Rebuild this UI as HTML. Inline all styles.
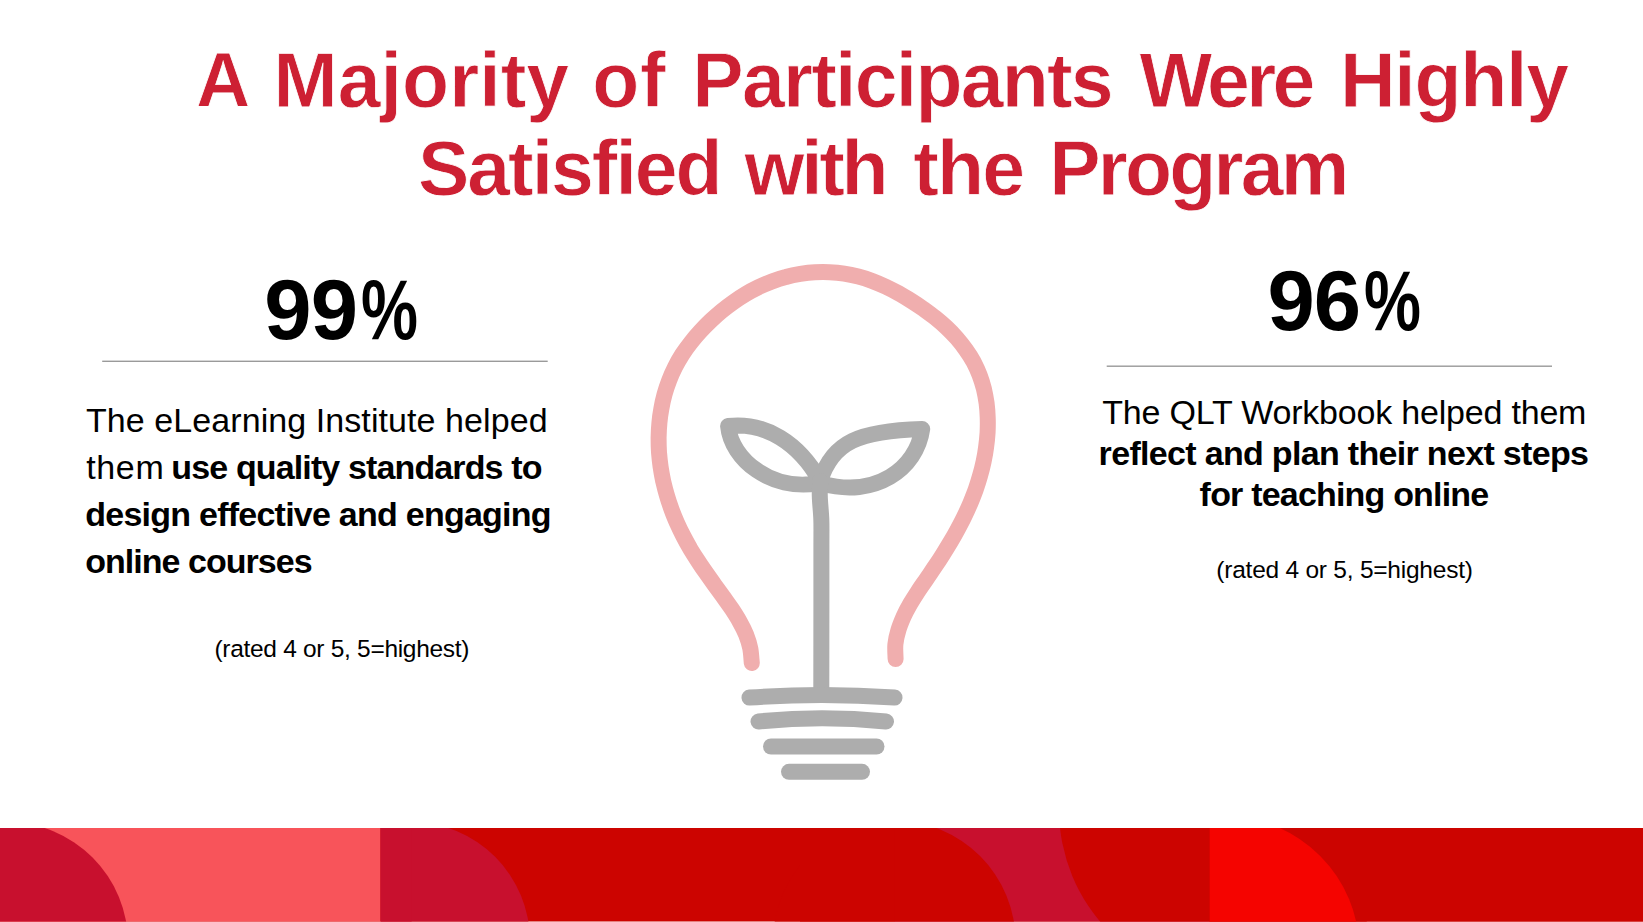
<!DOCTYPE html>
<html lang="en"><head><meta charset="utf-8"><title>A Majority of Participants Were Highly Satisfied with the Program</title>
<style>
html,body{margin:0;padding:0;background:#fff;}
body{width:1643px;height:922px;position:relative;overflow:hidden;font-family:"Liberation Sans",sans-serif;color:#000;}
.t{position:absolute;white-space:nowrap;line-height:1;}
.h{-webkit-text-stroke:0.8px #fff;}
b{font-weight:700;}
h1{margin:0;font-size:77px;}
</style></head><body>
<svg width="1643" height="922" viewBox="0 0 1643 922" style="position:absolute;left:0;top:0"><g fill="none" stroke-linecap="round" stroke-linejoin="round" stroke-width="16"><path stroke="#f0aeae" d="M751.8,663.0C751.5,660.6 751.2,653.1 750.3,648.4C749.3,643.7 747.8,639.1 746.1,634.7C744.3,630.2 742.1,625.9 739.7,621.7C737.4,617.5 734.7,613.3 732.0,609.2C729.3,605.1 726.3,601.1 723.5,597.1C720.6,593.1 717.7,589.1 714.8,585.2C711.9,581.2 709.1,577.2 706.3,573.2C703.5,569.2 700.7,565.2 698.1,561.1C695.4,557.0 692.8,552.9 690.3,548.8C687.9,544.6 685.5,540.3 683.3,536.0C681.0,531.7 678.9,527.3 676.9,522.8C675.0,518.4 673.1,513.9 671.5,509.3C669.8,504.7 668.2,500.1 666.9,495.4C665.5,490.7 664.3,486.0 663.2,481.3C662.2,476.5 661.3,471.7 660.6,466.9C659.9,462.1 659.4,457.2 659.0,452.4C658.7,447.5 658.6,442.6 658.6,437.7C658.7,432.8 658.9,427.9 659.4,423.0C659.8,418.1 660.5,413.3 661.4,408.5C662.2,403.7 663.3,398.9 664.6,394.2C665.9,389.5 667.4,384.9 669.2,380.3C670.9,375.8 672.9,371.4 675.1,367.0C677.3,362.7 679.7,358.5 682.3,354.4C684.9,350.4 687.8,346.4 690.8,342.6C693.8,338.7 697.0,335.0 700.3,331.4C703.6,327.8 707.0,324.3 710.6,320.9C714.2,317.5 717.8,314.2 721.6,311.1C725.4,308.0 729.3,305.0 733.3,302.2C737.3,299.3 741.4,296.6 745.6,294.1C749.7,291.6 754.0,289.3 758.4,287.2C762.8,285.0 767.3,283.1 771.9,281.4C776.5,279.7 781.1,278.2 785.9,277.0C790.6,275.7 795.4,274.7 800.3,273.9C805.1,273.2 810.0,272.6 814.9,272.3C819.8,272.0 824.7,272.0 829.5,272.2C834.4,272.4 839.3,272.8 844.1,273.6C848.9,274.3 853.6,275.3 858.3,276.5C863.0,277.7 867.6,279.2 872.2,280.9C876.7,282.6 881.2,284.5 885.6,286.6C890.0,288.7 894.4,290.9 898.6,293.3C902.9,295.7 907.1,298.3 911.3,300.9C915.4,303.5 919.5,306.2 923.5,309.0C927.5,311.9 931.4,314.7 935.3,317.8C939.1,320.9 942.8,324.0 946.4,327.4C950.0,330.8 953.4,334.3 956.7,338.0C959.9,341.7 963.0,345.6 965.8,349.6C968.6,353.5 971.3,357.7 973.6,361.9C975.8,366.2 977.9,370.6 979.6,375.1C981.3,379.5 982.7,384.2 983.9,388.8C985.0,393.5 985.9,398.3 986.6,403.1C987.2,407.9 987.6,412.8 987.7,417.7C987.9,422.6 987.8,427.5 987.6,432.4C987.3,437.3 986.8,442.2 986.1,447.1C985.5,452.0 984.6,456.9 983.6,461.7C982.6,466.5 981.4,471.2 980.0,475.9C978.7,480.6 977.2,485.2 975.6,489.8C973.9,494.3 972.2,498.8 970.3,503.3C968.4,507.8 966.4,512.2 964.3,516.5C962.2,520.9 959.9,525.2 957.6,529.5C955.3,533.8 952.9,538.0 950.4,542.2C947.9,546.4 945.3,550.6 942.7,554.7C940.1,558.9 937.4,563.0 934.6,567.1C931.9,571.2 929.0,575.2 926.3,579.3C923.5,583.4 920.6,587.4 918.0,591.5C915.3,595.6 912.7,599.7 910.2,603.9C907.8,608.1 905.5,612.3 903.5,616.7C901.6,621.1 899.7,625.5 898.4,630.1C897.0,634.7 895.9,639.3 895.4,644.2C894.9,649.0 895.6,656.6 895.6,659.1"/><g stroke="#adadad"><path d="M820.2,481.1C798.9,443.0 765.4,421.7 728.1,426.0C731.2,459.8 771.5,491.0 817.2,483.4"/><path d="M820.2,481.1C832.4,441.5 859.8,430.9 922.2,429.0C916.8,468.9 875.0,498.6 821.7,483.4"/><path d="M820.2,481.1C820.1,483.6 819.6,490.0 819.8,496.3C819.9,502.6 821.0,511.0 821.3,519.1C821.6,527.2 821.4,531.5 821.4,545.0C821.4,558.5 821.4,576.2 821.4,600.0C821.4,623.8 821.3,673.3 821.3,688.0"/><path d="M749.5,697.6Q822,692.4 894.5,697.6"/><path d="M758.5,721.5Q822,715 886,721.5"/><path d="M771,746.5L876.5,746.5"/><path d="M789,771.8L862,771.8"/></g></g><defs><clipPath id="band"><rect x="0" y="828" width="1643" height="93.5"/></clipPath></defs><g clip-path="url(#band)"><rect x="0" y="828" width="1643" height="94" fill="#cc0400"/><rect x="0" y="828" width="380.6" height="94" fill="#f8545a"/><circle cx="7" cy="943" r="121" fill="#c8102e"/><clipPath id="c2"><rect x="380.6" y="828" width="300" height="94"/></clipPath><circle cx="411" cy="941" r="119" fill="#c8102e" clip-path="url(#c2)"/><rect x="380.6" y="828" width="31" height="94" fill="#c8102e"/><rect x="894" y="828" width="316" height="94" fill="#c8102e"/><circle cx="894.3" cy="941.8" r="121.3" fill="#cc0400"/><rect x="800" y="828" width="94.3" height="94" fill="#cc0400"/><circle cx="1233.4" cy="809.2" r="174.4" fill="#cc0400"/><rect x="1209.7" y="828" width="433.3" height="94" fill="#cc0400"/><clipPath id="c5"><rect x="1209.7" y="828" width="300" height="94"/></clipPath><circle cx="1224.7" cy="950.9" r="134.7" fill="#f50400" clip-path="url(#c5)"/></g><rect x="102.2" y="360.6" width="445.5" height="1.4" fill="#9a9a9a"/><rect x="1106.7" y="365.5" width="445.3" height="1.4" fill="#9a9a9a"/></svg>
<h1>
<span class="t h" style="left:195.6px;top:41.52px;font-size:77px;font-weight:700;color:#cd2033;transform:scaleX(0.9763);transform-origin:0 0;">A </span>
<span class="t h" style="left:273.53px;top:41.52px;font-size:77px;font-weight:700;color:#cd2033;letter-spacing:0.064px;">Majority </span>
<span class="t h" style="left:592.31px;top:41.52px;font-size:77px;font-weight:700;color:#cd2033;letter-spacing:0.68px;">of </span>
<span class="t h" style="left:692.33px;top:41.52px;font-size:77px;font-weight:700;color:#cd2033;letter-spacing:-1.763px;">Participants </span>
<span class="t h" style="left:1139.46px;top:41.52px;font-size:77px;font-weight:700;color:#cd2033;letter-spacing:-3.685px;">Were </span>
<span class="t h" style="left:1340.03px;top:41.52px;font-size:77px;font-weight:700;color:#cd2033;letter-spacing:-1.263px;">Highly </span>
<span class="t h" style="left:418.0px;top:129.62px;font-size:77px;font-weight:700;color:#cd2033;letter-spacing:-2.048px;">Satisfied </span>
<span class="t h" style="left:744.62px;top:129.62px;font-size:77px;font-weight:700;color:#cd2033;letter-spacing:-3.315px;">with </span>
<span class="t h" style="left:913.2px;top:129.62px;font-size:77px;font-weight:700;color:#cd2033;letter-spacing:-1.82px;">the </span>
<span class="t h" style="left:1049.13px;top:129.62px;font-size:77px;font-weight:700;color:#cd2033;letter-spacing:-2.755px;">Program </span>
</h1>
<section>
<div class="t" style="left:264.3px;top:267.35px;font-size:85px;font-weight:700;letter-spacing:-0.864px;">99</div>
<div class="t" style="left:360.68px;top:267.35px;font-size:85px;font-weight:700;transform:scaleX(0.754);transform-origin:0 0;">%</div>
</section>
<section>
<div class="t" style="left:1267.4px;top:258.15px;font-size:85px;font-weight:700;letter-spacing:-1.034px;">96</div>
<div class="t" style="left:1363.78px;top:258.15px;font-size:85px;font-weight:700;transform:scaleX(0.754);transform-origin:0 0;">%</div>
<div class="t" style="left:85.94px;top:402.92px;font-size:34px;letter-spacing:0.08px;">The eLearning Institute helped</div>
<div class="t" style="left:86.17px;top:450.42px;font-size:34px;letter-spacing:0.659px;">them </div>
<div class="t" style="left:171.37px;top:450.42px;font-size:34px;letter-spacing:-0.871px;"><b>use quality standards to</b></div>
<div class="t" style="left:85.25px;top:496.62px;font-size:34px;letter-spacing:-0.753px;"><b>design effective and engaging</b></div>
<div class="t" style="left:85.28px;top:543.82px;font-size:34px;letter-spacing:-0.976px;"><b>online courses</b></div>
<div class="t" style="left:214.45px;top:636.66px;font-size:24.5px;letter-spacing:-0.297px;">(rated 4 or 5, 5=highest)</div>
<div class="t" style="left:1102.24px;top:394.72px;font-size:34px;letter-spacing:-0.196px;">The QLT Workbook helped them</div>
<div class="t" style="left:1098.61px;top:435.62px;font-size:34px;letter-spacing:-0.678px;"><b>reflect and plan their next steps</b></div>
<div class="t" style="left:1199.62px;top:476.92px;font-size:34px;letter-spacing:-0.805px;"><b>for teaching online</b></div>
<div class="t" style="left:1216.35px;top:557.96px;font-size:24.5px;letter-spacing:-0.235px;">(rated 4 or 5, 5=highest)</div>
</section>
</body></html>
